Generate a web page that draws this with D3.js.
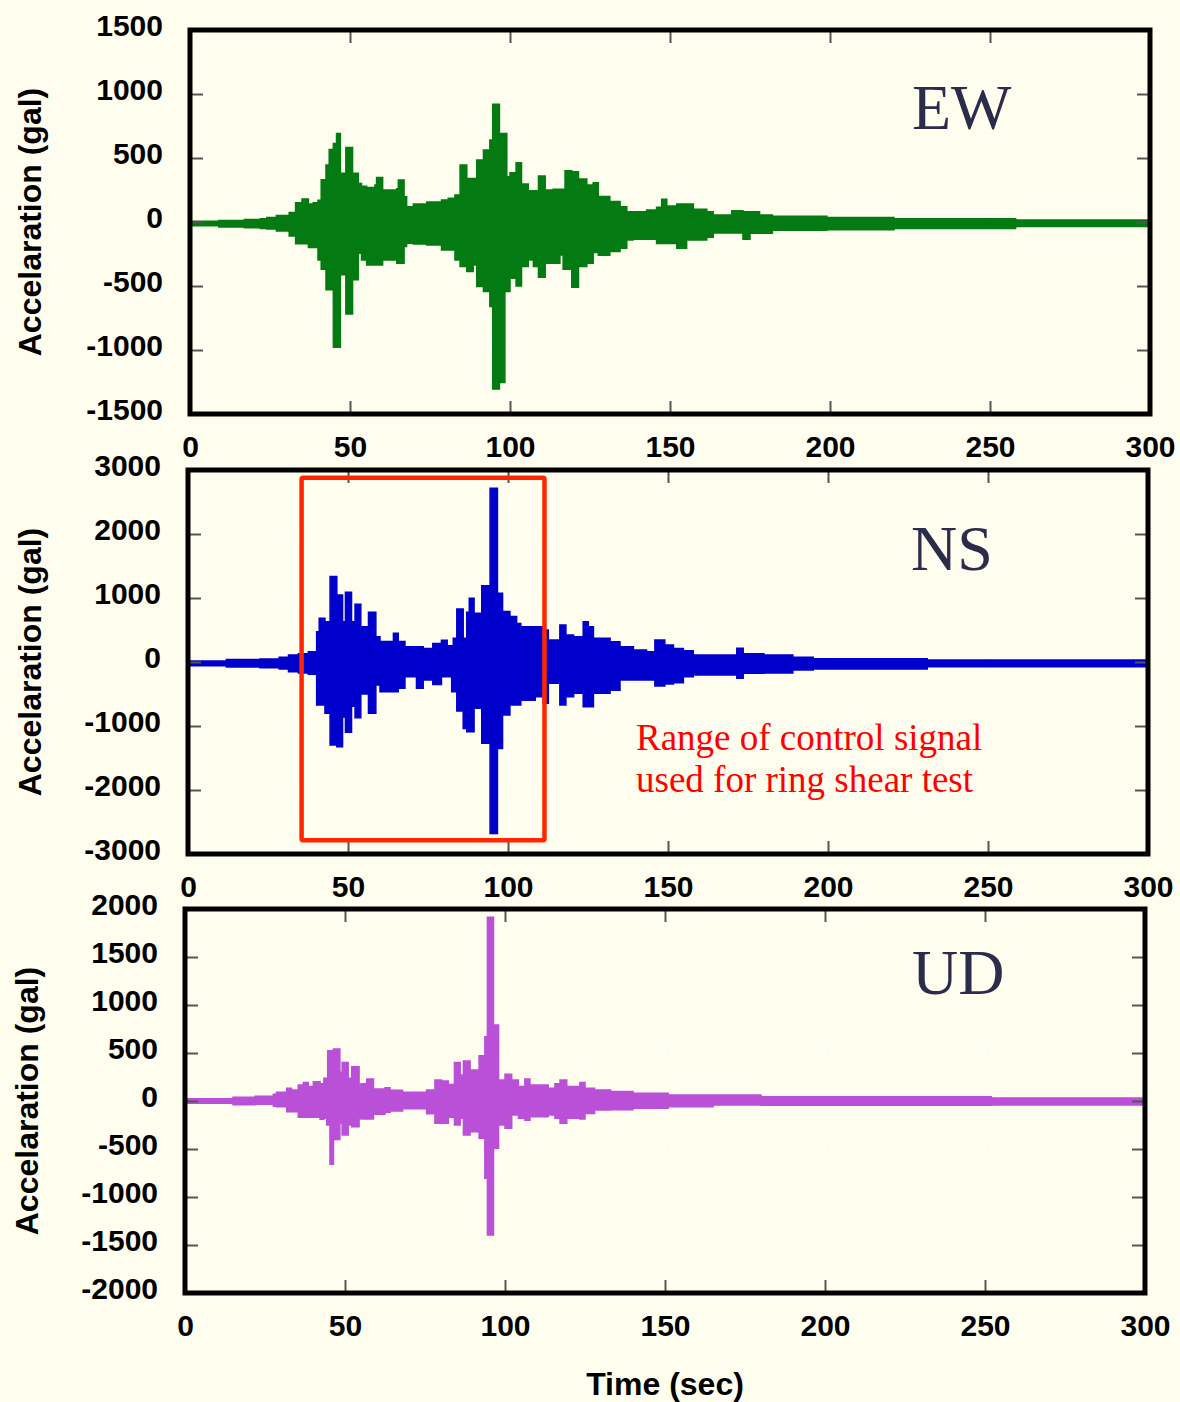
<!DOCTYPE html>
<html>
<head>
<meta charset="utf-8">
<script src="https://cdn.jsdelivr.net/npm/d3@7"></script>
<style>
  body { margin: 0; background: #fffdee; }
  svg { display: block; }
</style>
</head>
<body>
<svg id="chart" width="1180" height="1402"></svg>
<script>
"use strict"

// tick labels
const timeTicks = [0, 50, 100, 150, 200, 250, 300];
const ewTicks = [-1500, -1000, -500, 0, 500, 1000, 1500];
const nsTicks = [-3000, -2000, -1000, 0, 1000, 2000, 3000];
const udTicks = [-2000, -1500, -1000, -500, 0, 500, 1000, 1500, 2000];

// envelope of each record: step starts (sec), upper peak and lower peak (gal)
const ewTime = [0, 9, 17, 22, 24, 27, 31, 33, 35, 37, 38.5, 40, 41, 42.5, 43.5, 44.8, 45.8, 47, 48.7, 50.8,
  52.6, 53.6, 55.2, 57.8, 58.3, 60.2, 64.6, 65.1, 66.9, 67.7, 69.8, 74, 78.6, 80.7, 82.8, 84.4, 86.5, 88.5, 89.6, 91.7,
  93.7, 94.6, 96.7, 98.4, 99, 100, 101.9, 103.6, 105.7, 107.3, 108.9, 111, 113.5, 115.6, 116.6, 117.2, 119.3, 121.4, 124, 126,
  127.6, 131.2, 134.4, 136.5, 138.5, 142.7, 145.8, 147.4, 149, 152.1, 155.2, 157.3, 161.5, 163.5, 169.3, 172.8, 175, 178, 182, 199,
  220, 258, 300];
const ewHigh = [5, 12, 20, 25, 35, 50, 75, 150, 180, 140, 150, 170, 330, 445, 567, 614, 692, 380, 582, 380,
  300, 280, 270, 290, 348, 250, 260, 328, 198, 120, 140, 156, 172, 185, 210, 445, 340, 340, 484, 562,
  640, 920, 692, 692, 354, 384, 463, 296, 244, 244, 359, 250, 255, 255, 255, 400, 393, 335, 289, 307,
  200, 160, 120, 81, 81, 94, 115, 177, 125, 140, 140, 99, 80, 55, 88, 80, 80, 55, 45, 35,
  25, 15, 15];
const ewLow = [-30, -40, -45, -50, -55, -70, -110, -170, -170, -200, -200, -296, -370, -530, -530, -978, -978, -413, -718, -452,
  -244, -296, -335, -335, -335, -296, -322, -322, -192, -166, -172, -180, -218, -218, -296, -348, -387, -335, -504, -543,
  -660, -1305, -1253, -543, -543, -440, -500, -348, -296, -348, -432, -322, -322, -257, -369, -369, -510, -348, -322, -239,
  -260, -230, -205, -140, -135, -135, -167, -167, -167, -205, -140, -140, -120, -86, -86, -135, -88, -88, -65, -60,
  -50, -35, -35];

const nsTime = [0, 12, 22.5, 28.5, 31.4, 34.5, 37.6, 40.2, 41, 42.8, 44.4, 46.5, 48.3, 49.2, 51.1, 52.2, 54, 56.4, 58.7, 60,
  64.2, 65.7, 67.8, 71.4, 73.5, 76.5, 79.2, 81, 82.4, 82.9, 84, 86, 87.1, 87.9, 89.4, 91.8, 94.4, 96.7, 98.3, 100.6,
  102.7, 104, 108.5, 111, 112.6, 116.2, 118.1, 120.5, 123.5, 125.1, 126.7, 131.9, 135, 139.2, 143.3, 145.9, 149, 151.7, 154.8, 157.9,
  171.5, 173.5, 180, 189, 195.4, 231, 300];
const nsHigh = [16, 40, 47, 75, 109, 130, 161, 474, 682, 630, 1334, 1047, 630, 1089, 630, 901, 550, 776, 395, 320,
  448, 320, 240, 240, 210, 290, 340, 255, 255, 370, 828, 370, 776, 995, 760, 1193, 2714, 1073, 790, 709,
  600, 550, 550, 500, 345, 578, 420, 395, 630, 550, 370, 318, 240, 188, 160, 344, 265, 210, 175, 110,
  214, 130, 110, 73, 52, 31, 31];
const nsLow = [-57, -80, -89, -110, -151, -170, -190, -672, -672, -802, -1297, -1323, -860, -1099, -690, -870, -500, -802, -360, -464,
  -464, -410, -230, -412, -280, -350, -230, -230, -464, -464, -766, -1040, -1089, -1089, -723, -1271, -2678, -1350, -830, -672,
  -672, -596, -542, -646, -333, -672, -542, -490, -698, -698, -490, -440, -281, -281, -281, -375, -345, -325, -230, -203,
  -255, -177, -170, -125, -110, -73, -73];

const udTime = [0, 15, 21.9, 27.6, 28.6, 31.8, 33.3, 35.4, 37, 38.5, 40.1, 42.2, 43.4, 44.3, 44.6, 45.3, 46.4, 48.4, 49.1, 51,
  52.1, 54.4, 55, 56.8, 58.9, 62.5, 64.1, 68, 75.5, 78.1, 80.2, 82.3, 84.2, 86, 87, 89.1, 91.9, 93.7, 94.5, 96.4,
  98, 100, 102.1, 104.2, 106.2, 107.8, 113.5, 115.6, 117.2, 119.3, 123.4, 125, 128, 133, 140, 151, 165, 180, 252, 300];
const udHigh = [24, 38, 49, 70, 90, 132, 115, 167, 194, 150, 201, 180, 236, 236, 524, 524, 541, 300, 402, 236,
  357, 170, 180, 229, 125, 139, 111, 90, 115, 219, 208, 173, 402, 270, 416, 323, 472, 670, 1915, 791,
  218, 278, 218, 150, 229, 167, 132, 180, 219, 150, 194, 132, 115, 100, 80, 62, 62, 45, 31, 31];
const udLow = [-24, -38, -35, -55, -60, -111, -111, -170, -170, -170, -170, -190, -180, -250, -250, -660, -400, -230, -354, -250,
  -267, -180, -187, -187, -139, -118, -104, -80, -132, -232, -232, -170, -250, -180, -354, -320, -389, -805, -1395, -493,
  -250, -285, -146, -180, -200, -163, -146, -180, -232, -180, -187, -129, -94, -90, -76, -60, -42, -45, -42, -42];

// window of the NS record used as control signal (sec, gal)
const controlTime = [35.5, 111.4];
const controlLevel = [2880, -2785];
const controlNote = ["Range of control signal", "used for ring shear test"];

const sansFont = "'Liberation Sans', Arial, Helvetica, sans-serif";
const serifFont = "'Liberation Serif', 'Times New Roman', Times, serif";

const panels = [
  { name: "EW", color: "#047a12", time: ewTime, high: ewHigh, low: ewLow, ticks: ewTicks,
    left: 190, right: 1150, top: 30, bottom: 414, titleX: 41, nameDx: 722, nameDy: 99 },
  { name: "NS", color: "#0000cc", time: nsTime, high: nsHigh, low: nsLow, ticks: nsTicks,
    left: 188, right: 1148, top: 470, bottom: 854, titleX: 41, nameDx: 723, nameDy: 100 },
  { name: "UD", color: "#bb50d8", time: udTime, high: udHigh, low: udLow, ticks: udTicks,
    left: 185, right: 1145, top: 909, bottom: 1293, titleX: 38, nameDx: 727, nameDy: 85 }
];

const svg = d3.select("#chart");
svg.append("rect").attr("width", 1180).attr("height", 1402).attr("fill", "#fffdee");

// strip an axis down to its tick marks
const tickMarks = sel => {
  sel.select(".domain").remove();
  sel.selectAll("text").remove();
  sel.selectAll("line").attr("stroke", "#555").attr("stroke-width", 2);
};

panels.forEach(p => {
  const x = d3.scaleLinear().domain([0, 300]).range([p.left, p.right]);
  const y = d3.scaleLinear().domain(d3.extent(p.ticks)).range([p.bottom, p.top]);
  const innerX = timeTicks.slice(1, -1);
  const innerY = p.ticks.slice(1, -1);
  const g = svg.append("g").attr("class", "panel");

  // faint dotted grid
  g.append("g").selectAll("line").data(innerY).join("line")
    .attr("x1", p.left).attr("x2", p.right)
    .attr("y1", d => y(d)).attr("y2", d => y(d))
    .attr("stroke", "#ffffff").attr("stroke-width", 1.5).attr("stroke-dasharray", "2,3");
  g.append("g").selectAll("line").data(innerX).join("line")
    .attr("x1", d => x(d)).attr("x2", d => x(d))
    .attr("y1", p.top).attr("y2", p.bottom)
    .attr("stroke", "#ffffff").attr("stroke-width", 1.5).attr("stroke-dasharray", "2,3");

  // acceleration record as a stepped peak envelope
  const rows = p.time.map((t, k) => ({ t: t, hi: p.high[k], lo: p.low[k] }));
  const area = d3.area()
    .curve(d3.curveStepAfter)
    .x(d => x(d.t))
    .y0(d => y(d.lo))
    .y1(d => y(d.hi));
  g.append("path").datum(rows)
    .attr("d", area)
    .attr("fill", p.color)
    .attr("stroke", p.color)
    .attr("stroke-width", 1.5);

  // inward tick marks on all four sides
  g.append("g").attr("transform", `translate(${p.left},0)`)
    .call(d3.axisRight(y).tickValues(innerY).tickSize(13)).call(tickMarks);
  g.append("g").attr("transform", `translate(${p.right},0)`)
    .call(d3.axisLeft(y).tickValues(innerY).tickSize(13)).call(tickMarks);
  g.append("g").attr("transform", `translate(0,${p.top})`)
    .call(d3.axisBottom(x).tickValues(innerX).tickSize(13)).call(tickMarks);
  g.append("g").attr("transform", `translate(0,${p.bottom})`)
    .call(d3.axisTop(x).tickValues(innerX).tickSize(13)).call(tickMarks);

  if (p.name === "NS") {
    g.append("rect")
      .attr("x", x(controlTime[0]))
      .attr("y", y(controlLevel[0]))
      .attr("width", x(controlTime[1]) - x(controlTime[0]))
      .attr("height", y(controlLevel[1]) - y(controlLevel[0]))
      .attr("rx", 1.5)
      .attr("fill", "none")
      .attr("stroke", "#ff2600")
      .attr("stroke-width", 4.5);
    g.append("text")
      .attr("x", 636).attr("y", 750)
      .attr("font-family", serifFont).attr("font-size", 37).attr("fill", "#ff0000")
      .selectAll("tspan").data(controlNote).join("tspan")
      .attr("x", 636)
      .attr("dy", (d, k) => k === 0 ? 0 : 42)
      .text(d => d);
  }

  // frame
  g.append("rect")
    .attr("x", p.left).attr("y", p.top)
    .attr("width", p.right - p.left).attr("height", p.bottom - p.top)
    .attr("fill", "none").attr("stroke", "#000").attr("stroke-width", 5);

  // tick labels
  const yLabels = g.append("g").attr("transform", `translate(${p.left},0)`)
    .call(d3.axisLeft(y).tickValues(p.ticks).tickSize(0).tickPadding(27).tickFormat(d => String(d)));
  yLabels.select(".domain").remove();
  yLabels.attr("font-size", 30).attr("font-family", sansFont).attr("font-weight", "bold").attr("color", "#000");
  yLabels.selectAll("text").attr("dy", 5.5);

  const xLabels = g.append("g").attr("transform", `translate(0,${p.bottom})`)
    .call(d3.axisBottom(x).tickValues(timeTicks).tickSize(0).tickPadding(22).tickFormat(d => String(d)));
  xLabels.select(".domain").remove();
  xLabels.attr("font-size", 30).attr("font-family", sansFont).attr("font-weight", "bold").attr("color", "#000");

  // axis title and component name
  g.append("text")
    .attr("transform", `translate(${p.titleX},${(p.top + p.bottom) / 2}) rotate(-90)`)
    .attr("text-anchor", "middle")
    .attr("font-family", sansFont).attr("font-weight", "bold").attr("font-size", 32)
    .attr("fill", "#000")
    .text("Accelaration (gal)");

  g.append("text")
    .attr("x", p.left + p.nameDx).attr("y", p.top + p.nameDy)
    .attr("font-family", serifFont).attr("font-size", 64)
    .attr("fill", "#2b2b4b")
    .text(p.name);
});

svg.append("text")
  .attr("x", 665).attr("y", 1395)
  .attr("text-anchor", "middle")
  .attr("font-family", sansFont).attr("font-weight", "bold").attr("font-size", 32)
  .attr("fill", "#000")
  .text("Time (sec)");
</script>
</body>
</html>
